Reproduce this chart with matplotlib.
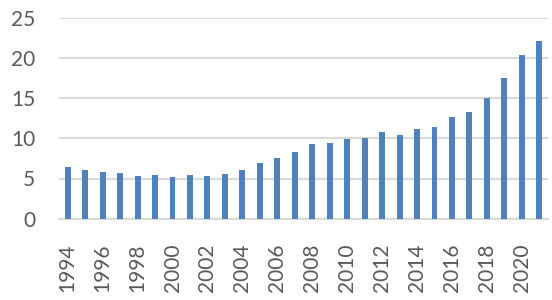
import matplotlib
matplotlib.use("Agg")
import matplotlib.pyplot as plt
import numpy as np

years = list(range(1994, 2022))
values = [6.4, 6.1, 5.85, 5.65, 5.35, 5.4, 5.2, 5.4, 5.25, 5.5, 6.05, 6.9,
          7.55, 8.25, 9.25, 9.37, 9.95, 10.03, 10.74, 10.36, 11.1, 11.4,
          12.69, 13.27, 15.05, 17.54, 20.36, 22.06]
yticks = [0, 5, 10, 15, 20, 25]

plt.rcParams['font.family'] = ['Lato', 'DejaVu Sans']

fig = plt.figure(figsize=(5.52, 3.0), dpi=100)
ax = fig.add_axes([59/552, (300-218.7)/300, (548-59)/552, (218.7-17.7)/300])

x = np.arange(len(years))
ax.bar(x, values, width=0.34, color='#4f81bd', zorder=3)

ax.set_xlim(-0.5, len(years) - 0.5)
ax.set_ylim(0, 25)
ax.set_yticks(yticks)
ax.set_yticklabels([str(t) for t in yticks])
ax.set_xticks(x[::2])
ax.set_xticklabels([str(y) for y in years[::2]], rotation=90)

ax.grid(axis='y', color='#d9d9d9', linewidth=1.5, zorder=0)
for s in ['top', 'right', 'left']:
    ax.spines[s].set_visible(False)
ax.spines['bottom'].set_color('#d9d9d9')
ax.spines['bottom'].set_linewidth(1.5)
ax.tick_params(axis='both', length=0, labelsize=15, colors='#595959')
ax.tick_params(axis='y', pad=17)
ax.tick_params(axis='x', pad=18)

fig.savefig('out.png', dpi=100)
